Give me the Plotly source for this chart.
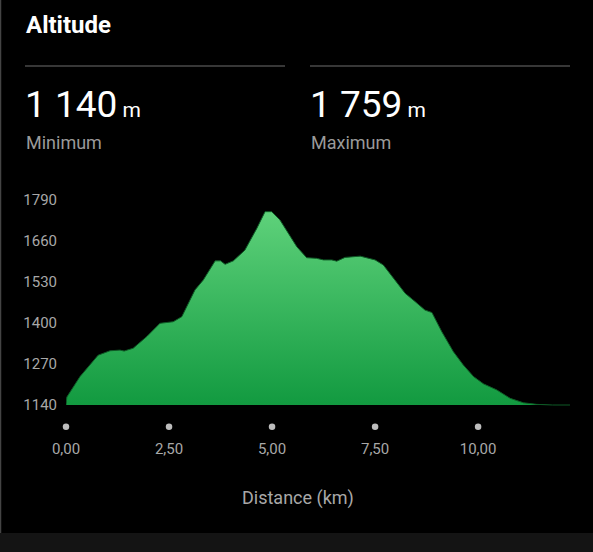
import plotly.graph_objects as go

# altitude profile (km, m)
distance_km = [0.00, 0.02, 0.34, 0.78, 1.07, 1.31, 1.41, 1.63, 1.96, 2.28, 2.60, 2.81,
               3.13, 3.33, 3.62, 3.75, 3.86, 4.06, 4.34, 4.63, 4.83, 4.99, 5.19, 5.44,
               5.60, 5.84, 6.08, 6.25, 6.45, 6.57, 6.77, 7.14, 7.50, 7.70, 7.94, 8.23,
               8.47, 8.71, 8.88, 9.12, 9.40, 9.64, 9.89, 10.13, 10.45, 10.78, 11.10,
               11.42, 11.80, 12.23]
altitude_m = [1140, 1165, 1230, 1298, 1312, 1314, 1311, 1320, 1357, 1399, 1404, 1420,
              1505, 1536, 1597, 1597, 1586, 1597, 1631, 1700, 1753, 1753, 1727, 1674,
              1642, 1607, 1605, 1600, 1600, 1596, 1608, 1612, 1600, 1584, 1542, 1494,
              1468, 1441, 1433, 1372, 1309, 1267, 1230, 1207, 1188, 1161, 1147,
              1142, 1140, 1140]

y_ticks = [1140, 1270, 1400, 1530, 1660, 1790]
x_ticks = [0.0, 2.5, 5.0, 7.5, 10.0]
x_tick_labels = ["0,00", "2,50", "5,00", "7,50", "10,00"]

min_alt = "1 140"
max_alt = "1 759"

font = "Roboto"
grey = "#a8a8a8"

# plot area in pixels: x 66..570, y 200..436
L, R, T, B = 66, 570, 200, 436


def px_x(x):
    return (x - L) / (R - L)


def px_y(y):
    return (B - y) / (B - T)


fig = go.Figure()

# baseline so the fill stops at the lowest altitude
fig.add_trace(go.Scatter(
    x=[distance_km[0], distance_km[-1]], y=[y_ticks[0], y_ticks[0]],
    mode="lines", line=dict(width=0), hoverinfo="skip",
))

fig.add_trace(go.Scatter(
    x=distance_km, y=altitude_m,
    mode="lines",
    line=dict(color="#0f5a26", width=1),
    fill="tonexty",
    fillgradient=dict(type="vertical", start=1140, stop=1759,
                      colorscale=[[0, "#129a40"], [1, "#5fd27b"]]),
    hoverinfo="skip",
))

# the little dots above the distance labels
fig.add_trace(go.Scatter(
    x=x_ticks, y=[1071] * len(x_ticks),
    mode="markers",
    marker=dict(color="#bdbdbd", size=6.5),
    cliponaxis=False,
    hoverinfo="skip",
))

fig.update_layout(
    width=593, height=552,
    margin=dict(l=L, r=593 - R, t=T, b=552 - B),
    paper_bgcolor="#000000", plot_bgcolor="#000000",
    showlegend=False,
    font=dict(family=font, color=grey, size=15),
    xaxis=dict(range=[0, 12.23], showgrid=False, zeroline=False, showline=False,
               tickvals=x_ticks, ticktext=x_tick_labels, ticks="",
               tickfont=dict(size=15, color=grey), ticklabelstandoff=2),
    yaxis=dict(range=[1041.7, 1790], showgrid=False, zeroline=False, showline=False,
               tickvals=y_ticks, ticks="", ticklabelstandoff=8,
               tickfont=dict(size=15, color=grey)),
)

# x axis title sits a little left of the plot centre in the reference
fig.add_annotation(text="Distance (km)", xref="paper", yref="paper", x=px_x(297.5), y=px_y(498),
                   showarrow=False, xanchor="center", yanchor="middle", font=dict(size=18, color=grey))

# header
fig.add_annotation(text="<b>Altitude</b>", xref="paper", yref="paper", x=px_x(24), y=px_y(25),
                   showarrow=False, xanchor="left", yanchor="middle", font=dict(size=24, color="white"))

for x0, x1 in [(25, 285), (310, 570)]:
    fig.add_shape(type="line", xref="paper", yref="paper", x0=px_x(x0), x1=px_x(x1),
                  y0=px_y(66), y1=px_y(66), line=dict(color="#4a4a4a", width=1.5))

for x_px, value, label in [(25, min_alt, "Minimum"), (310, max_alt, "Maximum")]:
    fig.add_annotation(text=value + "<span style='font-size:21px'> m</span>", xref="paper", yref="paper",
                       x=px_x(x_px - 2.5), y=px_y(104), showarrow=False,
                       xanchor="left", yanchor="middle", font=dict(size=37, color="white"))
    fig.add_annotation(text=label, xref="paper", yref="paper",
                       x=px_x(x_px - 1), y=px_y(142), showarrow=False,
                       xanchor="left", yanchor="middle", font=dict(size=18, color="#9a9a9a"))

# left border and bottom band
fig.add_shape(type="line", xref="paper", yref="paper", x0=px_x(0.5), x1=px_x(0.5),
              y0=px_y(552), y1=px_y(0), line=dict(color="#444444", width=1.5))
fig.add_shape(type="rect", xref="paper", yref="paper", x0=px_x(0), x1=px_x(593),
              y0=px_y(552), y1=px_y(533), fillcolor="#141414", line=dict(width=0))

fig.write_html("out.html", config={"displayModeBar": False},
               post_script="document.body.style.margin='0px';")
